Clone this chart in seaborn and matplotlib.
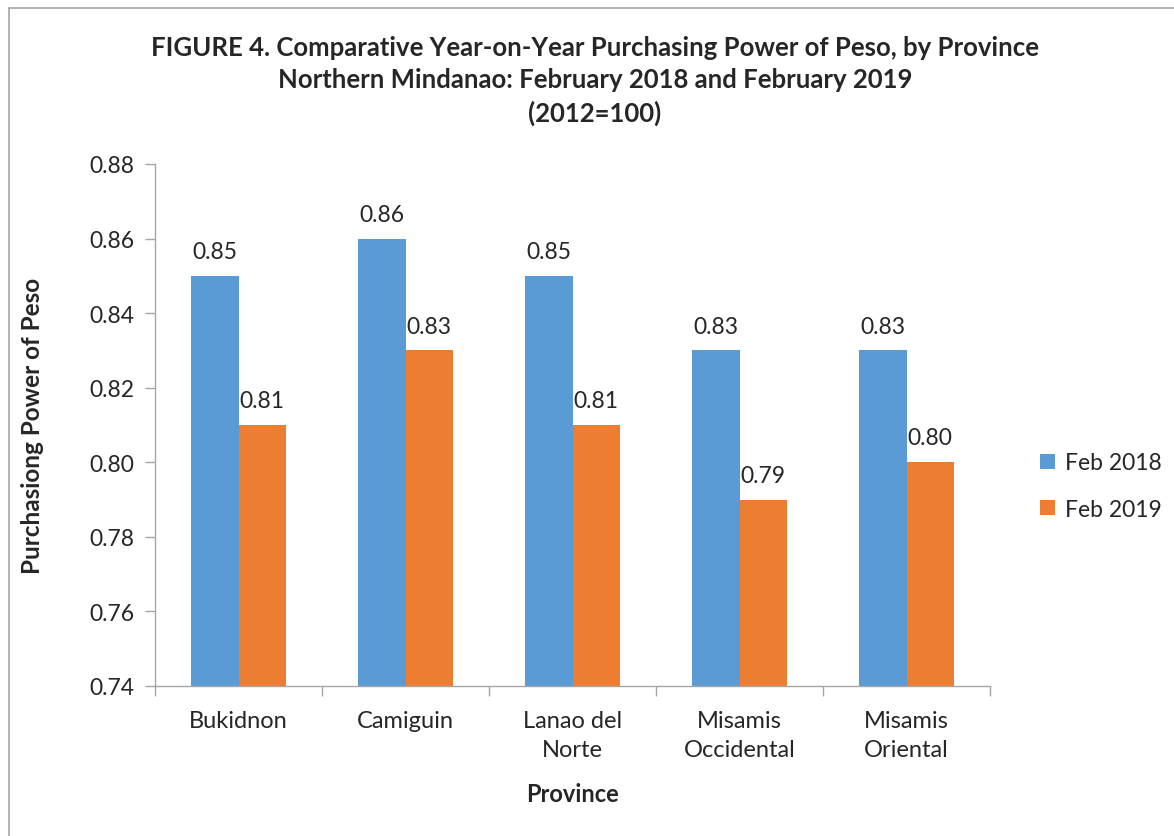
import matplotlib
matplotlib.use("Agg")
import matplotlib.pyplot as plt
import seaborn as sns
import pandas as pd
import numpy as np
from matplotlib.lines import Line2D
from matplotlib.ticker import FixedLocator, FormatStrFormatter

provinces = ["Bukidnon", "Camiguin", "Lanao del\nNorte", "Misamis\nOccidental", "Misamis\nOriental"]
feb2018 = [0.85, 0.86, 0.85, 0.83, 0.83]
feb2019 = [0.81, 0.83, 0.81, 0.79, 0.80]
series = ["Feb 2018", "Feb 2019"]
colors = ["#5B9BD5", "#ED7D31"]
yticks = [0.74, 0.76, 0.78, 0.80, 0.82, 0.84, 0.86, 0.88]

df = pd.DataFrame({
    "Province": provinces * 2,
    "Series": [series[0]] * len(provinces) + [series[1]] * len(provinces),
    "Value": feb2018 + feb2019,
})

sns.set_style("white")
plt.rcParams["font.family"] = ["Lato", "DejaVu Sans"]

W, H = 1174, 837
fig = plt.figure(figsize=(W/100, H/100), dpi=100)
ax = fig.add_axes([155/W, 1-687/H, (990-155)/W, (687-165)/H])

sns.barplot(data=df, x="Province", y="Value", hue="Series", palette=colors,
            width=0.57, ax=ax, saturation=1, edgecolor="none", legend=True)

ax.set_ylim(0.74, 0.88)
ax.set_xlim(-0.5, len(provinces) - 0.5)
ax.set_yticks(yticks)
ax.yaxis.set_major_formatter(FormatStrFormatter("%.2f"))
ax.tick_params(axis="y", labelsize=16.5, length=7, width=1, color="#A6A6A6", direction="out", pad=8, left=True)
ax.tick_params(axis="x", which="major", labelsize=17, length=0, pad=17)
for lbl in ax.get_xticklabels():
    lbl.set_linespacing(1.5)
ax.xaxis.set_minor_locator(FixedLocator(np.arange(-0.5, len(provinces), 1.0)))
ax.tick_params(axis="x", which="minor", length=7, width=1, color="#A6A6A6", direction="out", bottom=True)

for s in ["top", "right"]:
    ax.spines[s].set_visible(False)
for s in ["left", "bottom"]:
    ax.spines[s].set_color("#A6A6A6")
    ax.spines[s].set_linewidth(1)

for cont in ax.containers:
    ax.bar_label(cont, fmt="%.2f", padding=10, fontsize=16.5)

ax.set_xlabel("Province", fontsize=17, fontweight="bold")
ax.xaxis.set_label_coords(0.5, (687-795)/(687-165))
ax.xaxis.label.set_va("center")
ax.set_ylabel("Purchasiong Power of Peso", fontsize=17.5, fontweight="bold")
ax.yaxis.set_label_coords((33-155)/(990-155), 0.5)
ax.yaxis.label.set_va("center")

leg = ax.legend(loc="center left", bbox_to_anchor=(1.035, (687-487)/(687-165)), frameon=False,
                fontsize=16.5, handlelength=0.65, handleheight=0.65, labelspacing=1.1,
                handletextpad=0.45)

titles = ["FIGURE 4. Comparative Year-on-Year Purchasing Power of Peso, by Province",
          "Northern Mindanao: February 2018 and February 2019",
          "(2012=100)"]
ys = [48, 80, 113]
for t, y in zip(titles, ys):
    fig.text(595/W, 1 - y/H, t, ha="center", va="center", fontsize=18.5, fontweight="bold")

# outer chart border (left and top visible)
fig.add_artist(Line2D([9/W, 9/W], [0, 1 - 9/H], color="#A6A6A6", lw=1.2, transform=fig.transFigure))
fig.add_artist(Line2D([9/W, 1], [1 - 9/H, 1 - 9/H], color="#A6A6A6", lw=1.2, transform=fig.transFigure))

fig.savefig("out.png", dpi=100, facecolor="white")
